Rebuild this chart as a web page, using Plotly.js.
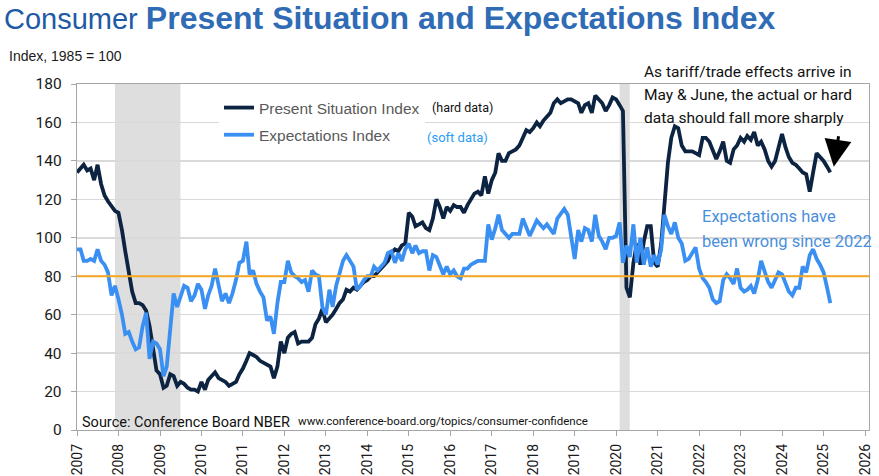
<!DOCTYPE html>
<html>
<head>
<meta charset="utf-8">
<script src="https://cdn.plot.ly/plotly-3.0.1.min.js"></script>
<style>
  html, body { margin: 0; padding: 0; background: #fff; }
  #chart { width: 879px; height: 476px; }
</style>
</head>
<body>
<div id="chart"></div>
<script>
// monthly data, Jan 2007 .. Mar 2025 (one row per year)
const startYear = 2007

const presentSituation = [
    134, 136, 138, 135, 136, 130, 138, 128, 122, 119, 116, 114,
    113, 104, 93, 82, 72, 66, 66, 65, 62, 54, 43, 31,
    29, 22, 23, 29, 28, 23, 25, 24, 22, 21, 21, 20,
    25, 21, 26, 28, 30, 27, 26, 25, 23, 24, 25, 29,
    32, 36, 40, 39, 38, 36, 35, 34, 33, 27, 33, 46,
    40, 48, 50, 51, 45, 46, 46, 46, 48, 55, 58, 63,
    56, 58, 60, 63, 66, 68, 73, 72, 74, 73, 75, 77,
    78, 80, 80, 82, 84, 86, 88, 92, 94, 93, 96, 97,
    113, 111, 106, 107, 108, 105, 104, 110, 120, 116, 110, 116,
    114, 117, 116, 116, 113, 117, 120, 123, 124, 122, 132, 123,
    130, 134, 144, 140, 140, 144, 145, 146, 148, 152, 156, 155,
    157, 160, 158, 161, 163, 165, 170, 172, 170, 171, 172, 172,
    171, 170, 165, 169, 170, 165, 174, 172, 170, 166, 169, 173,
    172, 169, 166, 74, 69, 87, 97, 86, 98, 106, 106, 87,
    85, 97, 118, 139, 152, 158, 157, 148, 145, 145, 145, 144,
    143, 152, 152, 150, 146, 141, 145, 150, 140, 139, 146, 148,
    152, 150, 153, 151, 155, 148, 150, 146, 140, 137, 140, 148,
    154, 147, 142, 139, 138, 136, 134, 133, 124, 134, 144, 142,
    140, 137, 134
]

const expectations = [
    94, 94, 88, 88, 89, 88, 94, 88, 86, 82, 70, 75,
    68, 60, 50, 51, 46, 42, 43, 54, 61, 37, 46, 45,
    42, 28, 33, 54, 71, 64, 70, 75, 74, 67, 70, 76,
    73, 63, 70, 75, 84, 75, 67, 71, 66, 71, 78, 87,
    88, 98, 81, 83, 76, 72, 69, 57, 59, 50, 66, 77,
    77, 88, 82, 80, 79, 77, 78, 72, 83, 81, 80, 64,
    60, 73, 64, 75, 82, 88, 91, 88, 85, 73, 75, 78,
    80, 80, 85, 83, 85, 87, 92, 93, 87, 92, 88, 94,
    97, 92, 96, 92, 93, 93, 83, 91, 90, 86, 81, 85,
    81, 83, 80, 79, 84, 84, 86, 87, 88, 88, 88, 107,
    99, 105, 112, 104, 102, 100, 102, 102, 102, 110, 106, 101,
    105, 109, 107, 105, 107, 104, 102, 110, 113, 115, 112, 100,
    89, 104, 98, 105, 104, 98, 112, 101, 98, 94, 100, 100,
    101, 108, 87, 96, 90, 107, 87, 100, 86, 95, 85, 91,
    86, 94, 112, 106, 102, 108, 100, 97, 88, 89, 92, 95,
    84, 79, 77, 74, 68, 66, 67, 78, 81, 79, 76, 84,
    74, 72, 73, 75, 71, 78, 88, 82, 77, 74, 78, 82,
    81, 76, 72, 70, 74, 74, 85, 82, 91, 94, 89, 86,
    82, 74, 66
]

const recessionStart = ["2007-12-01", "2020-02-01"]
const recessionEnd = ["2009-06-30", "2020-04-30"]
const referenceLevel = 80

const seriesNames = ["Present Situation Index", "Expectations Index"]
const seriesTags = ["(hard data)", "(soft data)"]
const tariffNote = ["As tariff/trade effects arrive in", "May & June, the actual or hard", "data should fall more sharply"]
const expectNote = ["Expectations have", "been wrong since 2022"]

// month dates
let months = []
for (let i = 0; i < presentSituation.length; i++) {
    let y = startYear + Math.floor(i / 12)
    let m = (i % 12) + 1
    months.push(`${y}-${String(m).padStart(2, "0")}-01`)
}

// plot box in pixels
const L = 77, R = 869, T = 84, B = 430
function px(x) { return (x - L) / (R - L) }
function py(y) { return (B - y) / (B - T) }

const roboto = "Roboto, 'Liberation Sans', sans-serif"
const arial = "'Liberation Sans', Arial, sans-serif"

let traces = [
    {
        x: months, y: presentSituation, name: seriesNames[0],
        type: "scatter", mode: "lines", legendgroup: "a",
        line: { color: "#0c2341", width: 3.8 }
    },
    {
        x: months, y: expectations, name: seriesNames[1],
        type: "scatter", mode: "lines", legendgroup: "b",
        line: { color: "#3a8ff2", width: 3.8 }
    }
]

let shapes = []
for (let i = 0; i < recessionStart.length; i++) {
    shapes.push({
        type: "rect", xref: "x", yref: "paper",
        x0: recessionStart[i], x1: recessionEnd[i], y0: 0, y1: 1,
        fillcolor: "#dedede", line: { width: 0 }, layer: "below"
    })
}
shapes.push({
    type: "line", xref: "paper", yref: "y",
    x0: 0, x1: 1, y0: referenceLevel, y1: referenceLevel,
    line: { color: "#f7a823", width: 2 }, layer: "above"
})

let annotations = [
    {
        text: "Index, 1985 = 100", xref: "paper", yref: "paper",
        x: px(7), y: py(56), xanchor: "left", yanchor: "middle", showarrow: false,
        font: { family: arial, size: 14, color: "#1a1a1a" }
    },
    {
        text: seriesTags[0], xref: "paper", yref: "paper",
        x: px(430), y: py(108), xanchor: "left", yanchor: "middle", showarrow: false,
        font: { family: roboto, size: 12.5, color: "#111" }
    },
    {
        text: seriesTags[1], xref: "paper", yref: "paper",
        x: px(425), y: py(137), xanchor: "left", yanchor: "middle", showarrow: false,
        font: { family: roboto, size: 13, color: "#2b9df4" }
    },
    {
        text: "Source: Conference Board NBER", xref: "paper", yref: "paper",
        x: px(80), y: py(422), xanchor: "left", yanchor: "middle", showarrow: false,
        font: { family: roboto, size: 14.5, color: "#111" }
    },
    {
        text: "www.conference-board.org/topics/consumer-confidence", xref: "paper", yref: "paper",
        x: px(296), y: py(421), xanchor: "left", yanchor: "middle", showarrow: false,
        font: { family: roboto, size: 11.5, color: "#111" }
    },
    {
        // arrow pointing at the latest readings
        text: "", x: "2025-04-01", y: 137, xref: "x", yref: "y",
        showarrow: true, arrowhead: 2, arrowsize: 1.8, arrowwidth: 3,
        arrowcolor: "#000", ax: 5, ay: -32
    }
]
tariffNote.forEach((line, i) => {
    annotations.push({
        text: line, xref: "paper", yref: "paper",
        x: px(642), y: py(72 + i * 23), xanchor: "left", yanchor: "middle", showarrow: false,
        font: { family: roboto, size: 15.5, color: "#111" }
    })
})
expectNote.forEach((line, i) => {
    annotations.push({
        text: line, xref: "paper", yref: "paper",
        x: px(700), y: py(217 + i * 24), xanchor: "left", yanchor: "middle", showarrow: false,
        font: { family: roboto, size: 16.5, color: "#4a8fdc" }
    })
})

let layout = {
    width: 879, height: 476,
    margin: { l: L, r: 879 - R, t: T, b: 476 - B },
    paper_bgcolor: "#fff", plot_bgcolor: "#fff",
    title: {
        text: "<span style='color:#1e5aa6;font-size:29px'>Consumer</span> <b><span style='color:#2f6cb5;font-size:32px'>Present Situation and Expectations Index</span></b>",
        x: 4 / 879, xanchor: "left", xref: "container",
        yref: "container", y: 1 - 19 / 476, yanchor: "middle",
        font: { family: arial, size: 29 }
    },
    showlegend: true,
    legend: {
        x: px(219), y: py(91), xanchor: "left", yanchor: "top",
        bgcolor: "#fff", borderwidth: 0,
        font: { family: arial, size: 15.5, color: "#595959" },
        itemwidth: 30, tracegroupgap: 4
    },
    xaxis: {
        type: "date",
        range: ["2007-01-01", "2026-02-05"],
        tick0: "2007-01-01", dtick: "M12", tickformat: "%Y",
        tickangle: -90,
        ticks: "outside", ticklen: 5, tickcolor: "#a6a6a6",
        ticklabelstandoff: 2,
        showgrid: false, zeroline: false,
        showline: true, linecolor: "#a6a6a6", linewidth: 1.3, mirror: true,
        tickfont: { family: roboto, size: 14, color: "#1a1a1a" }
    },
    yaxis: {
        range: [0, 180], dtick: 20,
        ticks: "outside", ticklen: 5, tickcolor: "#a6a6a6",
        ticklabelstandoff: 6,
        showgrid: true, gridcolor: "#d9d9d9", gridwidth: 1.5,
        zeroline: false,
        showline: true, linecolor: "#a6a6a6", linewidth: 1.3, mirror: true,
        tickfont: { family: roboto, size: 15.5, color: "#1a1a1a" }
    },
    shapes: shapes,
    annotations: annotations
}

Plotly.newPlot("chart", traces, layout, { displayModeBar: false, staticPlot: true })
</script>
</body>
</html>
